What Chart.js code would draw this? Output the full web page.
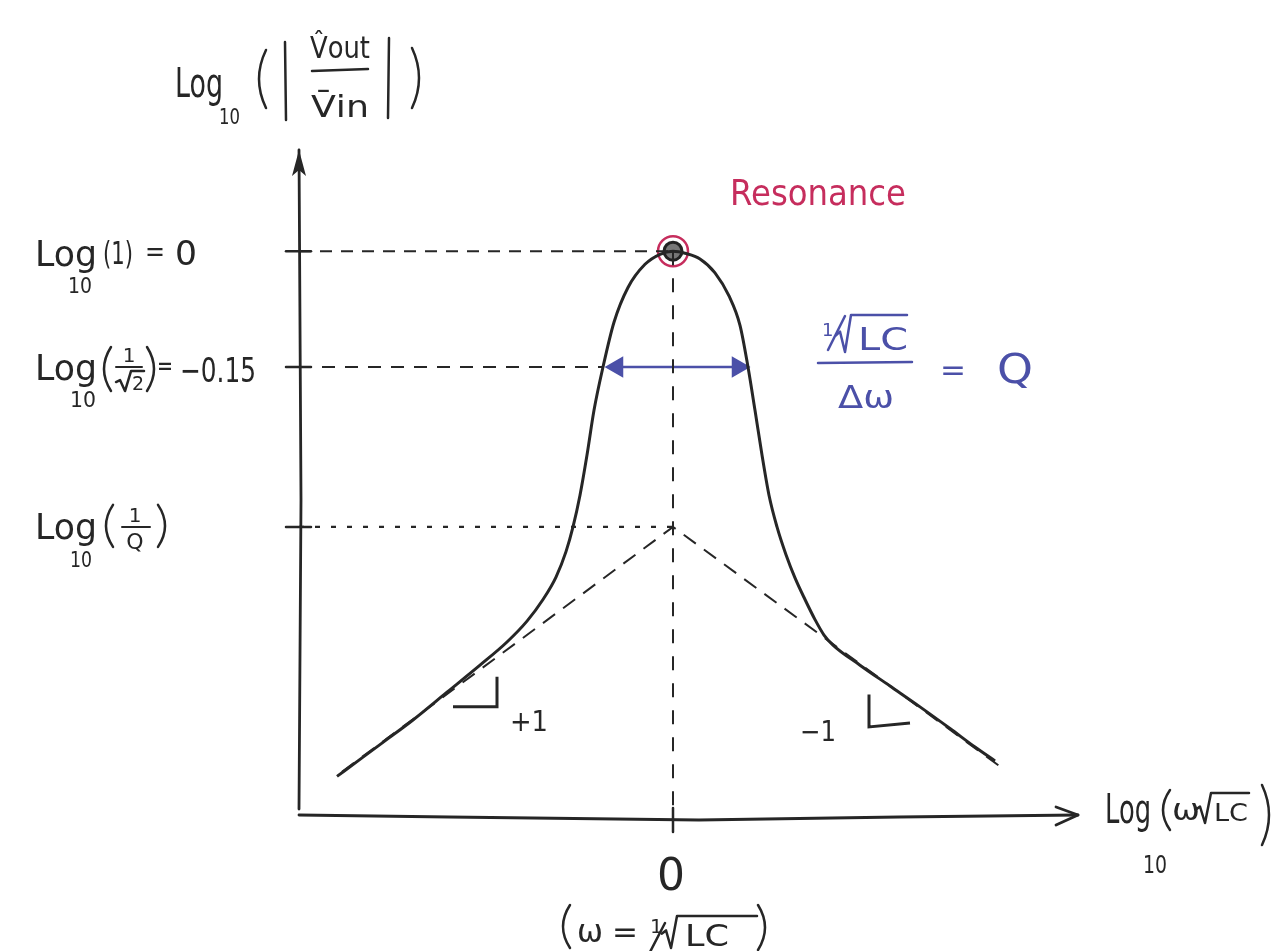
<!DOCTYPE html>
<html>
<head>
<meta charset="utf-8">
<script src="https://cdn.jsdelivr.net/npm/chart.js@4/dist/chart.umd.min.js"></script>
<style>
  html, body { margin: 0; background: #fff; }
  #wrap { width: 1285px; height: 951px; }
</style>
</head>
<body>
<div id="wrap"><canvas id="chart" width="1285" height="951"></canvas></div>
<script>
// x: log10(w*sqrt(LC)), y: log10(|Vout/Vin|)
const curveX = [-0.336, -0.313, -0.288, -0.260, -0.226, -0.193, -0.166, -0.146, -0.130, -0.117, -0.107, -0.100,
                -0.093, -0.086, -0.079, -0.070, -0.059, -0.045, -0.028, -0.013, 0,
                0.013, 0.027, 0.042, 0.056, 0.067, 0.075, 0.082, 0.089, 0.096, 0.104, 0.113, 0.122,
                0.132, 0.142, 0.151, 0.160, 0.187, 0.217, 0.247, 0.277, 0.302, 0.322];
const curveY = [-0.680, -0.658, -0.634, -0.607, -0.571, -0.536, -0.506, -0.479, -0.451, -0.422, -0.389, -0.357,
                -0.316, -0.264, -0.206, -0.150, -0.092, -0.047, -0.017, -0.004, 0,
                -0.003, -0.010, -0.028, -0.058, -0.096, -0.150, -0.206, -0.264, -0.316, -0.357, -0.393, -0.423,
                -0.451, -0.477, -0.497, -0.510, -0.536, -0.563, -0.590, -0.618, -0.642, -0.660];

// resonance point
const peakX = [0];
const peakY = [0];

// straight-line asymptotes, slope +1 / -1
const asymX = [-0.331, 0, 0.329];
const asymY = [-0.674, -0.357, -0.669];

// axis ticks: log10(1), log10(1/sqrt2), log10(1/Q)
const yTicks = [0, -0.15, -0.357];
const guideEnd = [0, -0.07, 0];
const xTicks = [0];

// half-power bandwidth arrow
const bandX = [-0.056, 0.065];
const bandY = [-0.15, -0.15];

// slope markers
const slopeUpX = [-0.220, -0.176, -0.176];
const slopeUpY = [-0.590, -0.590, -0.551];
const slopeDnX = [0.196, 0.196, 0.237];
const slopeDnY = [-0.574, -0.616, -0.611];

const xMin = -0.374, xMax = 0.405;
const yMin = -0.730, yMax = 0.131;

const ink = "#262626", red = "#c62d5d", blue = "#4b50a8";
const FONT = '"DejaVu Sans", sans-serif';

const pts = (xs, ys) => xs.map((x, i) => ({ x: x, y: ys[i] }));

function text(ctx, s, x, y, size, opts = {}) {
    ctx.save();
    ctx.font = `${size}px ${FONT}`;
    ctx.fillStyle = opts.color || ink;
    ctx.textBaseline = "alphabetic";
    let w = ctx.measureText(s).width;
    let sx = opts.width ? opts.width / w : 1;
    let x0 = opts.align === "center" ? x - w * sx / 2 : x;
    ctx.translate(x0, y);
    ctx.scale(sx, 1);
    ctx.fillText(s, 0, 0);
    ctx.restore();
}

function line(ctx, path, color, lw) {
    ctx.save();
    ctx.strokeStyle = color || ink;
    ctx.lineWidth = lw || 2.5;
    ctx.lineCap = "round";
    ctx.lineJoin = "round";
    ctx.beginPath();
    path.forEach((p, i) => i ? ctx.lineTo(p[0], p[1]) : ctx.moveTo(p[0], p[1]));
    ctx.stroke();
    ctx.restore();
}

function paren(ctx, x, top, bot, dir, color) {
    ctx.save();
    ctx.strokeStyle = color || ink;
    ctx.lineWidth = 2.5;
    ctx.lineCap = "round";
    ctx.beginPath();
    ctx.moveTo(x, top);
    ctx.quadraticCurveTo(x + dir * 14, (top + bot) / 2, x, bot);
    ctx.stroke();
    ctx.restore();
}

// radical sign with overbar of width w
function radical(ctx, x, base, h, w, color) {
    line(ctx, [[x, base - h * 0.45], [x + 4, base - h * 0.55], [x + 9, base], [x + 15, base - h], [x + 15 + w, base - h]], color, 2.5);
}

const sketchAxes = {
    id: "sketchAxes",
    beforeDatasetsDraw(chart) {
        const ctx = chart.ctx, xs = chart.scales.x, ys = chart.scales.y;
        const ax = xs.getPixelForValue(xMin), ay = ys.getPixelForValue(yMin);
        const top = ys.getPixelForValue(yMax), right = xs.getPixelForValue(xMax);

        // vertical axis with arrow
        line(ctx, [[ax, ay - 6], [ax + 2, 500], [ax, top]], ink, 2.8);
        ctx.save();
        ctx.fillStyle = ink;
        ctx.beginPath();
        ctx.moveTo(ax, top);
        ctx.lineTo(ax - 7, top + 26);
        ctx.lineTo(ax, top + 20);
        ctx.lineTo(ax + 7, top + 26);
        ctx.closePath();
        ctx.fill();
        ctx.restore();

        // horizontal axis with arrow
        line(ctx, [[ax, ay], [ax + 150, ay + 2], [ax + 400, ay + 5], [ax + 600, ay + 2], [right, ay]], ink, 2.8);
        line(ctx, [[right - 22, ay - 8], [right, ay], [right - 22, ay + 10]], ink, 2.8);

        yTicks.forEach(v => {
            const py = ys.getPixelForValue(v);
            line(ctx, [[ax - 13, py], [ax + 12, py]], ink, 2.5);
        });
        xTicks.forEach(v => {
            const px = xs.getPixelForValue(v);
            line(ctx, [[px, ay - 7], [px, ay + 17]], ink, 2.5);
        });
    },
    afterDraw(chart) {
        const ctx = chart.ctx, xs = chart.scales.x, ys = chart.scales.y;

        // y axis title
        text(ctx, "Log", 175, 97, 40, { width: 48 });
        text(ctx, "10", 219, 124, 22, { width: 21 });
        paren(ctx, 266, 50, 108, -1);
        line(ctx, [[285, 42], [286, 120]]);
        text(ctx, "V\u0302out", 340, 58, 30, { align: "center", width: 60 });
        line(ctx, [[312, 71], [368, 69]]);
        text(ctx, "V\u0304in", 340, 117, 30, { align: "center", width: 58 });
        line(ctx, [[389, 38], [388, 118]]);
        paren(ctx, 412, 48, 108, 1);

        // tick labels
        let ty = ys.getPixelForValue(yTicks[0]);
        text(ctx, "Log", 35, ty + 15, 36, { width: 62 });
        text(ctx, "10", 68, ty + 42, 22, { width: 24 });
        text(ctx, "(1)", 103, ty + 13, 32, { width: 30 });
        text(ctx, "=", 145, ty + 10, 28, { width: 20 });
        text(ctx, "0", 175, ty + 14, 34, { width: 22 });

        ty = ys.getPixelForValue(yTicks[1]);
        text(ctx, "Log", 35, ty + 13, 36, { width: 62 });
        text(ctx, "10", 70, ty + 40, 22, { width: 26 });
        paren(ctx, 111, ty - 20, ty + 24, -1);
        text(ctx, "1", 129, ty - 5, 20, { align: "center" });
        line(ctx, [[116, ty], [142, ty]], ink, 2);
        radical(ctx, 116, ty + 24, 20, 13);
        text(ctx, "2", 132, ty + 23, 19);
        paren(ctx, 147, ty - 20, ty + 24, 1);
        text(ctx, "=", 157, ty + 8, 26, { width: 16 });
        text(ctx, "\u22120.15", 180, ty + 15, 34, { width: 76 });

        ty = ys.getPixelForValue(yTicks[2]);
        text(ctx, "Log", 35, ty + 12, 36, { width: 62 });
        text(ctx, "10", 70, ty + 40, 22, { width: 22 });
        paren(ctx, 113, ty - 22, ty + 20, -1);
        text(ctx, "1", 135, ty - 5, 20, { align: "center" });
        line(ctx, [[122, ty], [150, ty]], ink, 2);
        text(ctx, "Q", 135, ty + 22, 22, { align: "center" });
        paren(ctx, 158, ty - 22, ty + 20, 1);

        // x axis labels
        const x0 = xs.getPixelForValue(xTicks[0]);
        const base = ys.getPixelForValue(yMin);
        text(ctx, "0", x0 - 2, base + 75, 44, { align: "center", width: 28 });
        paren(ctx, 570, base + 90, base + 133, -1);
        text(ctx, "\u03c9", 577, base + 127, 32, { width: 26 });
        text(ctx, "=", 612, base + 127, 30, { width: 26 });
        text(ctx, "1", 650, base + 118, 20);
        line(ctx, [[665, base + 108], [650, base + 137]]);
        radical(ctx, 662, base + 133, 32, 80);
        text(ctx, "LC", 685, base + 131, 30, { width: 44 });
        paren(ctx, 758, base + 90, base + 135, 1);

        text(ctx, "Log", 1105, base + 8, 40, { width: 46 });
        text(ctx, "10", 1143, base + 58, 24, { width: 24 });
        paren(ctx, 1170, base - 25, base + 15, -1);
        text(ctx, "\u03c9", 1172, base + 5, 30, { width: 28 });
        radical(ctx, 1196, base + 8, 30, 38);
        text(ctx, "LC", 1214, base + 6, 24, { width: 34 });
        paren(ctx, 1262, base - 30, base + 30, 1);

        // annotations
        text(ctx, "Resonance", 730, 205, 36, { color: red, width: 176 });

        text(ctx, "1", 822, 336, 18, { color: blue });
        line(ctx, [[845, 316], [828, 350]], blue, 2.5);
        radical(ctx, 836, 352, 37, 56, blue);
        text(ctx, "LC", 858, 350, 32, { color: blue, width: 50 });
        line(ctx, [[818, 363], [912, 362]], blue, 2.5);
        text(ctx, "\u0394\u03c9", 866, 408, 32, { color: blue, align: "center", width: 56 });
        text(ctx, "=", 940, 380, 30, { color: blue, width: 26 });
        text(ctx, "Q", 1015, 383, 40, { color: blue, align: "center", width: 36 });

        text(ctx, "+1", 510, 731, 28, { width: 38 });
        text(ctx, "\u22121", 800, 741, 28, { width: 36 });
    }
};

const chart = new Chart("chart", {
    type: "scatter",
    data: {
        datasets: [
            // dashed guides from the axis ticks
            ...yTicks.map((v, i) => ({
                data: [{ x: xMin, y: v }, { x: guideEnd[i], y: v }],
                showLine: true,
                borderColor: ink,
                borderWidth: i === 2 ? 2.2 : 2,
                borderDash: [[12, 9], [13, 10], [5, 11]][i],
                pointRadius: 0
            })),
            {
                data: [{ x: xTicks[0], y: yTicks[0] }, { x: xTicks[0], y: yMin }],
                showLine: true,
                borderColor: ink,
                borderWidth: 2,
                borderDash: [14, 13],
                pointRadius: 0
            },
            {
                data: pts(asymX, asymY),
                showLine: true,
                borderColor: ink,
                borderWidth: 2,
                borderDash: [15, 10],
                pointRadius: 0
            },
            {
                data: pts(curveX, curveY),
                showLine: true,
                borderColor: ink,
                borderWidth: 3,
                cubicInterpolationMode: "monotone",
                pointRadius: 0
            },
            {
                data: pts(bandX, bandY),
                showLine: true,
                borderColor: blue,
                borderWidth: 2.5,
                pointStyle: "triangle",
                pointRadius: 10,
                pointRotation: [-90, 90],
                pointBackgroundColor: blue,
                pointBorderColor: blue
            },
            {
                data: pts(slopeUpX, slopeUpY),
                showLine: true,
                borderColor: ink,
                borderWidth: 3,
                pointRadius: 0
            },
            {
                data: pts(slopeDnX, slopeDnY),
                showLine: true,
                borderColor: ink,
                borderWidth: 3,
                pointRadius: 0
            },
            // resonance peak marker
            {
                data: pts(peakX, peakY),
                pointStyle: "circle",
                pointRadius: 15,
                pointBorderWidth: 2.5,
                pointBorderColor: red,
                pointBackgroundColor: "rgba(0,0,0,0)"
            },
            {
                data: pts(peakX, peakY),
                pointStyle: "circle",
                pointRadius: 9,
                pointBorderWidth: 3,
                pointBorderColor: "#222",
                pointBackgroundColor: "#777"
            },
            {
                data: pts(peakX, peakY),
                pointStyle: "cross",
                pointRadius: 8,
                pointBorderWidth: 2.5,
                pointBorderColor: "#222"
            }
        ]
    },
    options: {
        responsive: false,
        animation: false,
        clip: false,
        layout: { padding: { left: 299, right: 207, top: 150, bottom: 136 } },
        plugins: { legend: { display: false }, tooltip: { enabled: false } },
        scales: {
            x: { type: "linear", min: xMin, max: xMax, display: false },
            y: { type: "linear", min: yMin, max: yMax, display: false }
        }
    },
    plugins: [sketchAxes]
});
</script>
</body>
</html>
